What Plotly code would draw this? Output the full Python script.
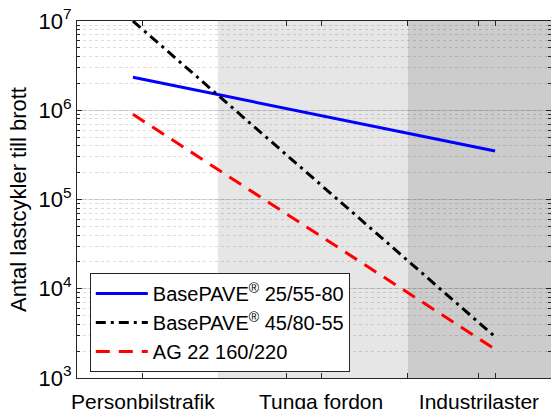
import plotly.graph_objects as go

# Data (x in arbitrary axis units, 0..10 across the plot width)
x_line = [1.18, 8.82]
names = ["BasePAVE<sup>®</sup> 25/55-80", "BasePAVE<sup>®</sup> 45/80-55", "AG 22 160/220"]
blue_vals = [2.34e6, 3.5e5]
black_vals = [1.0e7, 2.9e3]
red_vals = [9.0e5, 2.1e3]

tick_pos = [1.39, 4.41, 5.15, 6.98, 8.48, 8.82]
tick_text = ["Personbilstrafik", "", "Tunga fordon", "", "Industrilaster", ""]
zone_edges = [2.97, 6.98, 10.0]
zone_colors = ["#e6e6e6", "#cccccc"]

ytick_vals = [1e3, 1e4, 1e5, 1e6, 1e7]
ytick_text = ["10<sup>3</sup>", "10<sup>4</sup>", "10<sup>5</sup>", "10<sup>6</sup>", "10<sup>7</sup>"]

FONT = "Liberation Sans, Arial, sans-serif"
AX = "#262626"

fig = go.Figure()
fig.add_trace(go.Scatter(x=x_line, y=blue_vals, mode="lines", name=names[0],
                         line=dict(color="#0000ff", width=3)))
fig.add_trace(go.Scatter(x=x_line, y=black_vals, mode="lines", name=names[1],
                         line=dict(color="#000000", width=3, dash="10px,5px,3px,5px")))
fig.add_trace(go.Scatter(x=x_line, y=red_vals, mode="lines", name=names[2],
                         line=dict(color="#ff0000", width=3, dash="14px,9px")))

for i, c in enumerate(zone_colors):
    fig.add_shape(type="rect", xref="x", yref="paper", x0=zone_edges[i], x1=zone_edges[i + 1],
                  y0=0, y1=1, fillcolor=c, line=dict(width=0), layer="below")

fig.update_layout(
    width=551, height=409,
    margin=dict(l=77, r=0, t=21, b=31),
    paper_bgcolor="white", plot_bgcolor="white",
    font=dict(family=FONT, color=AX),
    showlegend=True,
    legend=dict(x=0.027, y=0.294, xanchor="left", yanchor="top",
                bgcolor="white", bordercolor=AX, borderwidth=1,
                font=dict(size=20, color="#000000"), itemwidth=52,
                tracegroupgap=0),
    xaxis=dict(range=[0, 10], tickvals=tick_pos, ticktext=tick_text, automargin=False,
               ticks="inside", ticklen=5, tickcolor=AX, showline=True, linecolor=AX,
               linewidth=1, mirror="ticks", showgrid=False, zeroline=False,
               ticklabelstandoff=5,
               tickfont=dict(size=21, color="#000000")),
    yaxis=dict(type="log", range=[3, 7], tickvals=ytick_vals, ticktext=ytick_text,
               automargin=False,
               ticks="inside", ticklen=5, tickcolor=AX, showline=True, linecolor=AX,
               linewidth=1, mirror="ticks", showgrid=True,
               gridcolor="rgba(38,38,38,0.15)", gridwidth=1,
               tickfont=dict(size=22, color="#000000"),
               title=dict(text="Antal lastcykler till brott", font=dict(size=22, color="#000000"),
                          standoff=5),
               minor=dict(ticks="inside", ticklen=3, tickcolor=AX, showgrid=True,
                          gridcolor="rgba(38,38,38,0.16)", griddash="dot", dtick="D1")),
)

fig.write_html("out.html", config={"displayModeBar": False},
               post_script="document.body.style.margin='0px';")
